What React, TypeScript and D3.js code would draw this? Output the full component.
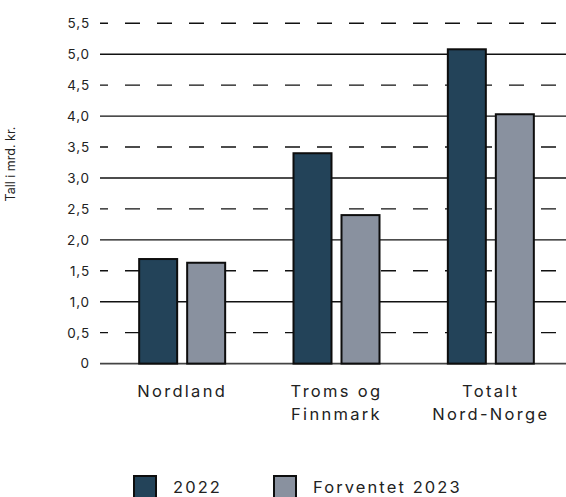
import React from "react";
import * as d3 from "d3";

const categories: string[][] = [["Nordland"], ["Troms og", "Finnmark"], ["Totalt", "Nord-Norge"]];
const seriesNames = ["2022", "Forventet 2023"];
const values2022 = [1.69, 3.4, 5.08];
const values2023 = [1.63, 2.4, 4.03];
const yTicks = [0, 0.5, 1, 1.5, 2, 2.5, 3, 3.5, 4, 4.5, 5, 5.5];
const yTickLabels = ["0", "0,5", "1,0", "1,5", "2,0", "2,5", "3,0", "3,5", "4,0", "4,5", "5,0", "5,5"];
const axisTitle = "Tall i mrd. kr.";

const W = 566;
const H = 497;
const colors = ["#234359", "#89919f"];
const FONT = "Inter, 'Open Sans', sans-serif";

export default function App() {
  const y = d3.scaleLinear().domain([0, 5.5]).range([363.6, 23.3]);
  const x0 = d3.scaleBand().domain(categories.map((_, i) => String(i))).range([105, 568]).paddingInner(0).paddingOuter(0);
  const x1 = d3.scaleBand().domain(["0", "1"]).range([0, 86]).paddingInner(10 / 48).paddingOuter(0);
  const series = [values2022, values2023];

  return (
    <svg width={W} height={H} style={{ position: "absolute", left: 0, top: 0, background: "#fff" }}>
      {yTicks.map((t, i) => {
        const dashed = i % 2 === 1;
        return (
          <g key={i}>
            <line
              x1={100}
              x2={W}
              y1={y(t)}
              y2={y(t)}
              stroke={t === 0 ? "#444" : "#111"}
              strokeWidth={t === 0 ? 1.6 : 1.4}
              strokeDasharray={dashed ? "15 17" : undefined}
              strokeDashoffset={dashed ? 7 : undefined}
            />
            <text x={90} y={y(t)} dy="0.36em" textAnchor="end" fontFamily={FONT} fontSize={13.5} letterSpacing={0.9} fill="#222">
              {yTickLabels[i]}
            </text>
          </g>
        );
      })}
      {categories.map((_, ci) => (
        <g key={ci} transform={`translate(${x0(String(ci))},0)`}>
          {series.map((vals, si) => (
            <rect
              key={si}
              x={x1(String(si))! + (x0.bandwidth() - 86) / 2}
              y={y(vals[ci])}
              width={x1.bandwidth()}
              height={y(0) - y(vals[ci])}
              fill={colors[si]}
              stroke="#0d0d0d"
              strokeWidth={2}
            />
          ))}
        </g>
      ))}
      {categories.map((lines, ci) => (
        <text
          key={ci}
          x={x0(String(ci))! + x0.bandwidth() / 2}
          textAnchor="middle"
          fontFamily={FONT}
          fontSize={16.5}
          letterSpacing={2.3}
          fill="#222"
        >
          {lines.map((l, li) => (
            <tspan key={li} x={x0(String(ci))! + x0.bandwidth() / 2} y={397 + li * 23}>
              {l}
            </tspan>
          ))}
        </text>
      ))}
      <text
        transform={`translate(15,164) rotate(-90)`}
        textAnchor="middle"
        fontFamily={FONT}
        fontSize={12.5}
        fill="#222"
      >
        {axisTitle}
      </text>
      {seriesNames.map((name, si) => {
        const lx = [133, 273][si];
        return (
          <g key={si}>
            <rect x={lx + 1} y={476} width={22} height={23} fill={colors[si]} stroke="#0d0d0d" strokeWidth={2} />
            <text x={lx + 40} y={493} fontFamily={FONT} fontSize={16.5} letterSpacing={2.1} fill="#222">
              {name}
            </text>
          </g>
        );
      })}
    </svg>
  );
}
